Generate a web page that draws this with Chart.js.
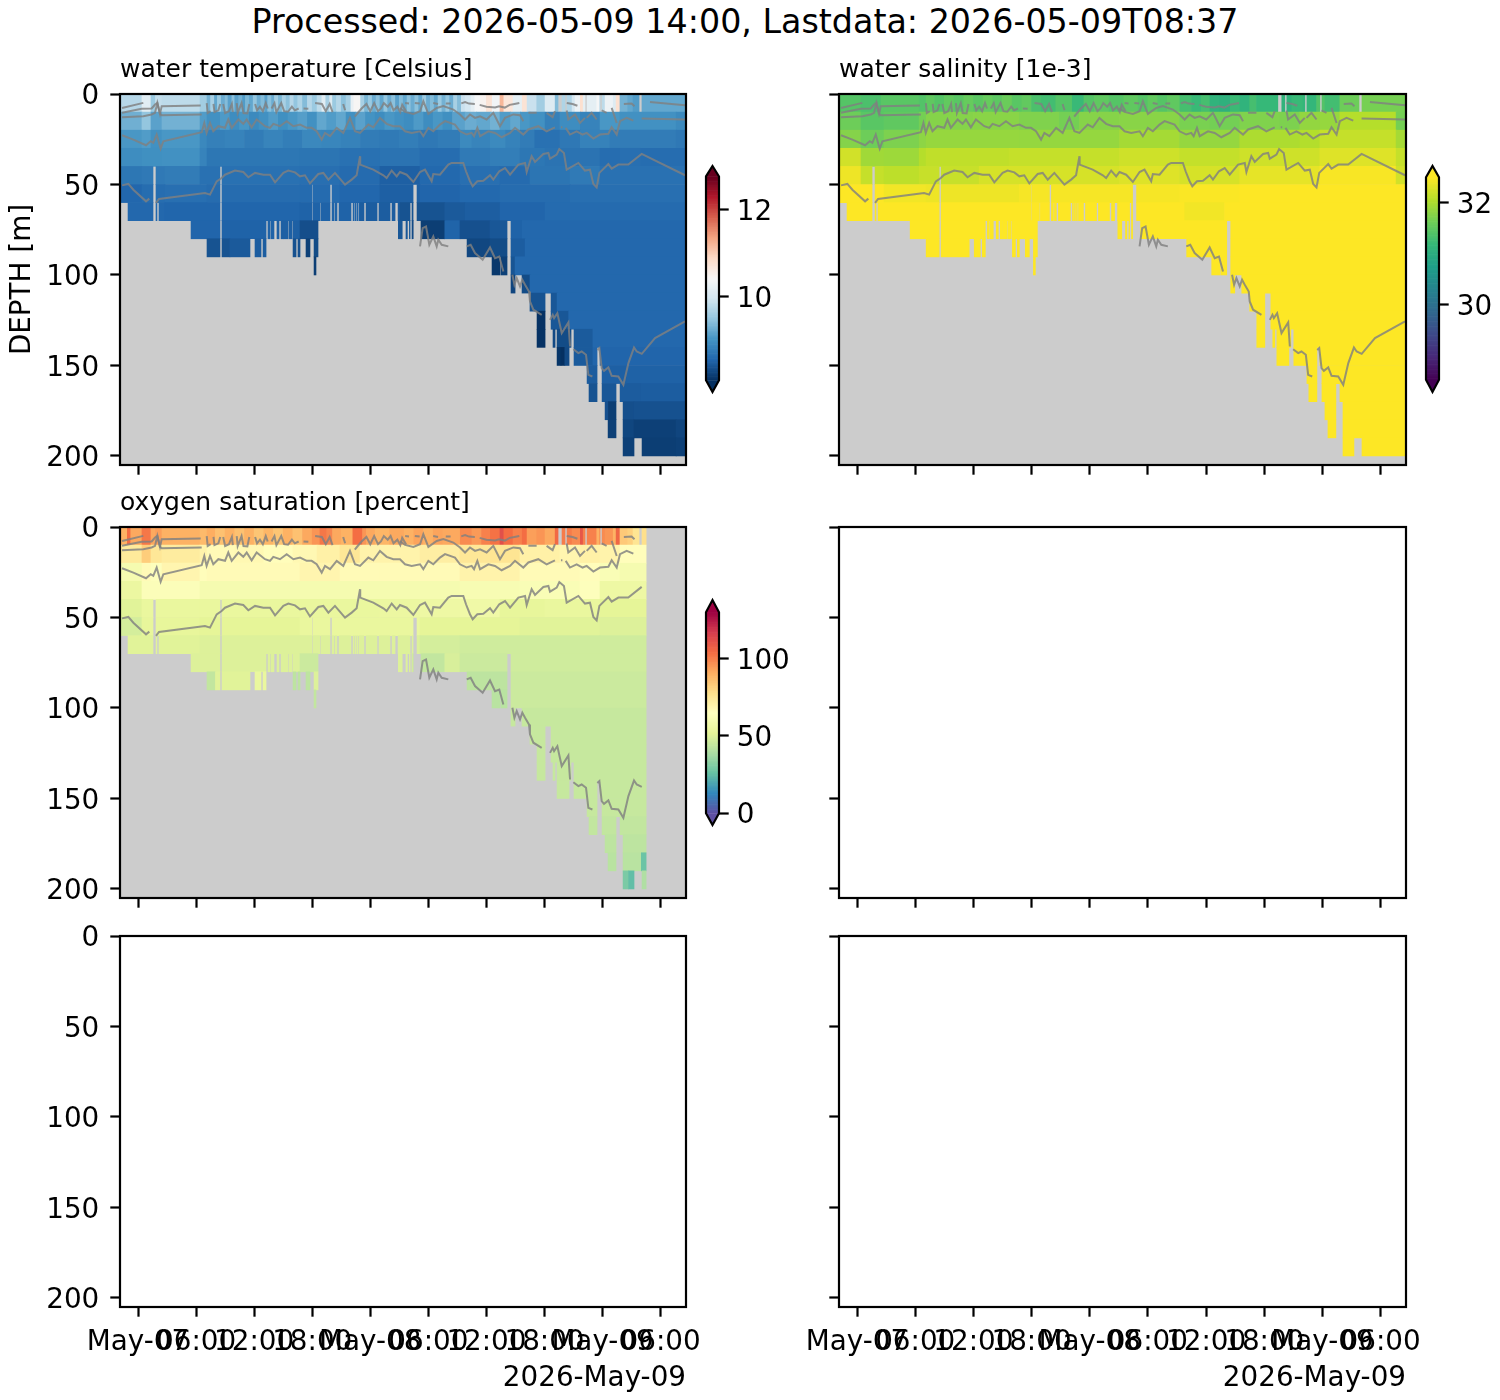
<!DOCTYPE html>
<html>
<head>
<meta charset="utf-8">
<title>Processed chart</title>
<style>
html,body{margin:0;padding:0;background:#fff;}
#wrap{position:relative;width:1500px;height:1400px;overflow:hidden;}
canvas{position:absolute;}
#sup{position:absolute;left:0;top:1px;width:1490px;text-align:center;font:33.3px "DejaVu Sans";color:#000;white-space:nowrap;line-height:42px;}
</style>
<script src="https://cdn.jsdelivr.net/npm/chart.js@4/dist/chart.umd.min.js"></script>
</head>
<body>
<div id="wrap"><div id="sup">Processed: 2026-05-09 14:00, Lastdata: 2026-05-09T08:37</div></div>
<script>
// ---------- axis values (time = hours since 2026-05-07 00:00, depth = metres) ----------
const xStart = -1.86, xEnd = 56.62;
const xTickHours = [0,6,12,18,24,30,36,42,48,54];
const xTickLabels = ['May-07','06:00','12:00','18:00','May-08','06:00','12:00','18:00','May-09','06:00'];
const yTicks = [0,50,100,150,200];
const depthCentres = [5,15,25,35,45,55,65,75,85,95,105,115,125,135,145,155,165,175,185,195];

// ---------- valid data intervals per depth bin ----------
const cover00 = [[-1.86,43.4],[43.81,44.12],[44.33,46.19],[46.4,47.74],[47.95,51.77],[52.08,56.62]];
const cover10 = [[-1.86,56.62]];
const cover20 = [[-1.86,56.62]];
const cover30 = [[-1.86,56.62]];
const cover40 = [[-1.86,1.55],[1.86,8.47],[8.68,56.62]];
const cover50 = [[-1.86,1.55],[1.86,8.47],[8.68,17.98],[18.08,19.84],[20.05,28.42],[28.83,56.62]];
const cover60 = [[-1.03,1.55],[1.86,1.96],[2.17,8.47],[8.68,17.98],[18.08,18.81],[18.91,19.84],[20.05,20.25],[20.36,20.56],[20.77,22.01],[22.22,22.32],[22.42,22.53],[22.63,22.73],[22.84,23.35],[23.56,24.7],[24.9,26.04],[26.25,26.56],[26.87,28.11],[28.31,28.42],[28.83,56.62]];
const cover70 = [[5.48,8.47],[8.68,13.23],[13.43,13.64],[13.74,14.05],[14.36,14.57],[14.78,14.98],[15.0,15.5],[15.6,15.9],[16.0,18.6],[26.9,27.3],[27.69,27.83],[28.04,28.11],[28.31,28.42],[29.24,38.13],[38.54,56.62]];
const cover80 = [[7.13,8.47],[8.68,11.57],[12.09,12.71],[12.92,13.23],[16.02,16.33],[16.53,16.74],[17.36,17.77],[18.19,18.6],[34.0,38.13],[38.54,56.62]];
const cover90 = [[18.19,18.39],[36.58,37.41],[37.51,38.13],[38.54,56.62]];
const cover100 = [[38.54,38.96],[39.68,56.62]];
const cover110 = [[40.5,42.06],[42.68,56.62]];
const cover120 = [[41.23,42.06],[42.68,56.62]];
const cover130 = [[41.23,42.06],[42.88,43.09],[43.3,44.74],[45.05,56.62]];
const cover140 = [[43.3,44.54],[45.05,47.43],[47.74,56.62]];
const cover150 = [[46.4,47.43],[47.95,56.62]];
const cover160 = [[46.6,47.43],[47.95,49.39],[49.81,56.62]];
const cover170 = [[48.26,49.39],[50.12,56.62]];
const cover180 = [[48.57,49.39],[50.12,56.62]];
const cover190 = [[50.12,51.25],[52.08,56.52]];
const coverRows = [cover00,cover10,cover20,cover30,cover40,cover50,cover60,cover70,cover80,cover90,cover100,cover110,cover120,cover130,cover140,cover150,cover160,cover170,cover180,cover190];

// ---------- water temperature per depth bin: [segment end hour, value] ----------
const temp00 = [[0.41,9.75],[1.34,10.15],[1.8,9.55],[2.48,9.85],[6.41,9.8],[7.13,9.6],[7.5,9.3],[7.9,9.65],[8.2,9.2],[8.6,9.55],[9.0,9.25],[9.3,9.4],[9.7,9.15],[10.0,9.45],[10.4,9.15],[10.8,9.3],[11.1,9.1],[11.5,9.35],[11.9,9.2],[12.3,9.5],[12.7,9.25],[13.1,9.4],[13.4,9.15],[13.8,9.45],[14.1,9.25],[14.5,9.6],[14.9,9.35],[15.3,9.65],[15.7,9.45],[16.1,9.75],[16.5,9.5],[17.0,9.7],[17.5,9.4],[18.0,9.75],[18.5,9.55],[19.0,9.8],[19.4,10.15],[19.8,9.65],[20.1,10.1],[20.5,9.55],[21.0,9.75],[21.5,9.45],[22.0,9.65],[22.3,10.25],[23.0,10.45],[23.4,9.65],[23.8,9.35],[24.2,9.55],[24.6,9.25],[25,9.45],[25.4,9.2],[25.8,9.5],[26.2,9.25],[26.6,9.45],[27,9.15],[27.4,9.4],[27.8,9.2],[28.2,9.45],[28.6,9.25],[29,9.45],[29.4,9.2],[29.8,9.55],[30.2,9.25],[30.6,9.4],[31,9.2],[31.4,9.55],[31.8,9.3],[32.2,9.5],[32.6,9.25],[33,9.65],[33.4,9.4],[33.8,9.9],[34.4,10.0],[34.8,10.2],[35.4,10.4],[36,10.5],[36.6,10.75],[37.4,10.35],[37.8,11.2],[38.75,10.7],[39.7,10.2],[40.2,10.75],[41.2,9.9],[42.06,9.6],[43.1,10.1],[43.4,9.4],[44.85,9.7],[45.16,10.0],[45.7,10.3],[46,10.8],[47.4,10.2],[47.7,10.4],[48.26,9.8],[49.1,10.3],[49.4,10.1],[49.8,10.8],[50.6,9.3],[51.15,9.2],[52.1,9.1],[56.62,9.2]];
const temp10 = [[0.41,9.28],[1.34,9.5],[2.48,9.15],[6.41,9.3],[7.13,9.1],[8.5,9.0],[9.5,9.08],[10.5,8.95],[11.5,9.05],[12.5,8.92],[13.5,9.0],[14.5,9.1],[15.5,8.98],[16.5,9.05],[17.5,9.12],[18.5,9.0],[19.5,9.2],[20.5,9.1],[21.5,9.2],[22.5,9.0],[23.5,9.15],[24.5,9.02],[25.5,8.95],[26.5,9.05],[27.5,9.0],[28.5,8.95],[29.5,9.08],[30.5,8.95],[31.5,9.05],[32.5,8.98],[33.8,9.15],[35,9.25],[36.4,9.2],[37.4,9.3],[38.5,9.1],[39.5,9.2],[40.5,9.05],[42.06,9.0],[43.6,8.82],[45.7,8.95],[47.74,8.85],[49.8,9.05],[55.6,9.0],[56.62,8.92]];
const temp20 = [[0.41,9.05],[1.34,9.1],[2.48,9.0],[6.41,9.05],[7.13,8.9],[9,8.82],[11,8.85],[13,8.78],[15,8.86],[17,8.8],[19,8.9],[21,8.88],[23,8.84],[25,8.78],[27,8.76],[29,8.8],[31,8.74],[33.3,8.78],[34.5,8.92],[36.4,8.86],[38,8.92],[39.5,8.84],[41,8.78],[43.6,8.66],[45.7,8.74],[48.77,8.84],[55.6,8.78],[56.62,8.74]];
const temp30 = [[0.41,8.95],[2.48,8.98],[6.41,9.0],[7.13,8.85],[16.74,8.72],[20.87,8.7],[25,8.66],[29.14,8.68],[33.27,8.62],[36.4,8.76],[39.47,8.8],[42.06,8.72],[47.74,8.68],[49.8,8.62],[52,8.64],[56.62,8.62]];
const temp40 = [[0.41,8.72],[2.79,8.75],[6.41,8.78],[16.74,8.66],[20.87,8.64],[25,8.6],[29.14,8.5],[33.27,8.58],[37.4,8.64],[40.5,8.6],[44.64,8.7],[47.74,8.76],[56.62,8.66]];
const temp50 = [[0.41,8.56],[2.79,8.62],[7.13,8.64],[16.74,8.61],[20.87,8.6],[25,8.56],[29.14,8.5],[33.27,8.54],[37.4,8.58],[44.64,8.61],[56.62,8.64]];
const temp60 = [[2.79,8.57],[16.74,8.55],[22.94,8.52],[27.07,8.47],[31.7,8.38],[33.8,8.44],[37.41,8.48],[42.06,8.54],[56.62,8.6]];
const temp70 = [[8.47,8.54],[14.4,8.52],[16.74,8.5],[18.6,8.34],[28.4,8.42],[31.7,8.2],[33.27,8.53],[36.37,8.36],[38.13,8.42],[39.7,8.52],[56.62,8.57]];
const temp80 = [[9.5,8.38],[11.57,8.44],[13.3,8.47],[16.8,8.37],[17.77,8.22],[18.6,8.32],[36.37,8.28],[38.13,8.32],[40,8.47],[56.62,8.57]];
const temp90 = [[18.39,8.2],[37.41,8.15],[38.13,8.22],[38.96,8.4],[56.62,8.57]];
const temp100 = [[38.96,8.26],[40.5,8.32],[56.62,8.57]];
const temp110 = [[42.06,8.38],[43.3,8.42],[56.62,8.57]];
const temp120 = [[42.06,8.1],[44.5,8.42],[56.62,8.57]];
const temp130 = [[42.06,8.1],[43.09,8.3],[44.74,8.32],[47,8.45],[56.62,8.57]];
const temp140 = [[43.7,8.12],[44.1,8.08],[44.54,8.3],[47,8.45],[56.62,8.54]];
const temp150 = [[47.43,8.46],[50.5,8.5],[56.62,8.51]];
const temp160 = [[47.43,8.38],[49.39,8.42],[52,8.46],[56.62,8.47]];
const temp170 = [[48.6,8.36],[49.39,8.2],[51.25,8.35],[56.62,8.37]];
const temp180 = [[49.39,8.22],[51.25,8.27],[55.6,8.22],[56.62,8.26]];
const temp190 = [[51.25,8.22],[55.6,8.2],[56.62,8.22]];
const tempRows = [temp00,temp10,temp20,temp30,temp40,temp50,temp60,temp70,temp80,temp90,temp100,temp110,temp120,temp130,temp140,temp150,temp160,temp170,temp180,temp190];

// ---------- water salinity per depth bin ----------
const sal00 = [[0.41,31.42],[2.48,31.35],[6.41,31.45],[7.13,31.4],[8,31.5],[9,31.42],[10,31.52],[11,31.45],[12,31.55],[13,31.46],[14,31.55],[15,31.48],[16,31.58],[17,31.45],[18,31.52],[19,31.35],[20.5,31.28],[22.2,31.42],[23.4,31.2],[24.5,31.42],[26,31.5],[27.5,31.42],[29,31.5],[30,31.42],[31,31.52],[32,31.42],[33.3,31.5],[34.5,31.3],[35.5,31.2],[36.4,31.3],[37.4,31.1],[38.5,31.05],[39.5,31.22],[40.5,31.1],[41.2,31.3],[43.6,31.18],[44.85,31.1],[46,31.2],[47.4,31.15],[48.26,31.4],[49.8,31.28],[51.8,31.6],[56.62,31.66]];
const sal10 = [[0.41,31.6],[2.79,31.45],[6.41,31.5],[7.13,31.65],[12,31.75],[16.74,31.78],[20.87,31.72],[22.94,31.65],[27.07,31.76],[33.27,31.78],[36.4,31.68],[39.47,31.64],[43.6,31.72],[45.67,31.7],[47.74,31.84],[49.8,31.86],[55.6,32.05],[56.62,31.65]];
const sal20 = [[0.41,31.75],[2.79,31.6],[6.41,31.7],[7.13,31.8],[16.74,31.86],[27.07,31.85],[33.27,31.95],[39.47,31.85],[45.67,32.0],[47.74,32.04],[55.6,32.15],[56.62,31.95]];
const sal30 = [[0.41,32.22],[2.79,31.92],[6.41,31.9],[7.13,32.05],[15.7,32.12],[27.07,32.15],[33.27,32.2],[39.47,32.14],[47.74,32.2],[55.6,32.3],[56.62,32.15]];
const sal40 = [[0.41,32.4],[2.79,32.15],[6.41,32.1],[12.6,32.16],[27.07,32.25],[33.27,32.3],[39.47,32.25],[47.74,32.35],[55.6,32.46],[56.62,32.22]];
const sal50 = [[2.79,32.5],[7.13,32.42],[16.74,32.4],[33.27,32.45],[39.47,32.47],[56.62,32.5]];
const sal60 = [[33.8,32.5],[37.9,32.42],[56.62,32.5]];
const sal70 = [[56.62,32.6]];
const sal80 = [[56.62,32.6]];
const sal90 = [[56.62,32.6]];
const sal100 = [[56.62,32.6]];
const sal110 = [[56.62,32.6]];
const sal120 = [[56.62,32.6]];
const sal130 = [[56.62,32.6]];
const sal140 = [[56.62,32.6]];
const sal150 = [[56.62,32.6]];
const sal160 = [[56.62,32.6]];
const sal170 = [[56.62,32.6]];
const sal180 = [[56.62,32.6]];
const sal190 = [[56.62,32.6]];
const salRows = [sal00,sal10,sal20,sal30,sal40,sal50,sal60,sal70,sal80,sal90,sal100,sal110,sal120,sal130,sal140,sal150,sal160,sal170,sal180,sal190];

// ---------- oxygen saturation per depth bin ----------
const oxy00 = [[-1.1,90],[-0.75,104],[0.41,92],[1.34,102],[1.8,92],[2.48,94],[6.41,90],[7.13,88],[8,91],[9,86],[10,90],[11,86],[12,90],[13,85],[14,89],[15,85],[16,90],[17,86],[18,92],[18.8,96],[19.5,102],[20.1,99],[21,92],[22.2,90],[23.2,104],[23.6,96],[24.5,92],[26,89],[27.5,92],[28.5,90],[29.5,93],[30.5,90],[31.5,93],[33.3,92],[34.5,98],[35.5,95],[36.4,100],[37.4,103],[37.8,112],[38.75,104],[39.7,100],[40.2,104],[41.2,94],[42.06,96],[43.1,92],[43.4,105],[44.85,101],[45.7,98],[46,110],[47.4,100],[47.7,90],[48.26,98],[49.1,96],[49.4,90],[49.8,106],[50.6,84],[51.15,82],[52.1,76],[52.5,78]];
const oxy10 = [[0.41,74],[1.34,83],[2.48,75],[6.41,73],[7.13,70],[10,67],[13,68],[16,66],[18.5,68],[20.87,71],[22.94,75],[27.07,70],[29.14,70],[33.27,72],[36.4,75],[39.47,76],[43.6,71],[45.67,69],[47.74,71],[49.8,70],[52.5,66]];
const oxy20 = [[0.41,60],[1.34,67],[2.48,64],[6.41,69],[7.13,66],[16.74,67],[20.87,69],[25,67],[33.27,67],[39.47,70],[45.67,67],[47.74,66],[49.8,62],[52.5,60]];
const oxy30 = [[0.41,55],[1.34,63],[6.41,63],[16.74,60],[25,60],[33.27,60],[39.47,61],[45.67,62],[47.74,64],[52.5,56]];
const oxy40 = [[0.41,51],[6.41,54],[16.74,54],[25,54],[29.14,55],[33.27,56],[37.4,57],[42.06,53],[47.74,54],[52.5,52]];
const oxy50 = [[0.41,48],[6.41,53],[16.74,52],[29.14,54],[39.47,52],[47.74,51],[52.5,50]];
const oxy60 = [[6.41,51],[16.74,50],[29.14,50],[33.27,48],[47.74,47],[52.5,47]];
const oxy70 = [[16.74,50],[18.6,46],[28.4,50],[31.7,44],[33.27,49],[38.13,46],[52.5,47]];
const oxy80 = [[8,44],[11.57,51],[13.23,54],[17.77,43],[18.6,50],[38.13,43],[52.5,46]];
const oxy90 = [[18.39,44],[38.13,42],[52.5,46]];
const oxy100 = [[52.5,45]];
const oxy110 = [[52.5,45]];
const oxy120 = [[52.5,45]];
const oxy130 = [[52.5,45]];
const oxy140 = [[52.5,45]];
const oxy150 = [[52.5,45]];
const oxy160 = [[52.5,44]];
const oxy170 = [[52.5,43]];
const oxy180 = [[52.0,42],[52.5,27]];
const oxy190 = [[50.7,30],[51.25,25],[52.5,40]];
const oxyRows = [oxy00,oxy10,oxy20,oxy30,oxy40,oxy50,oxy60,oxy70,oxy80,oxy90,oxy100,oxy110,oxy120,oxy130,oxy140,oxy150,oxy160,oxy170,oxy180,oxy190];

// ---------- grey contour lines: [hour, depth], null = break ----------
const contourTop = [[-1.65,7.7],[0.55,4.9],null,[-1.65,10.4],[0.38,8.2],[1.41,8],[1.76,5.8],[2,4.9],[2.27,11],[2.45,6.7],[6.48,6.4],null,[7.1,5],[7.2,10.5],[7.5,9.5],null,[7.8,5.5],[7.9,10],[8.3,9],[8.5,5.5],null,[8.8,5.5],[9.0,10.5],[9.4,9.5],[9.7,5.5],[9.8,10],null,[10.2,5],[10.3,10.5],[10.7,5],[10.9,10.5],[11.3,10.7],[11.5,5.5],null,[12.1,5.5],[12.3,9],[12.6,7],[12.9,9.5],[13.2,5],[13.4,8],null,[13.8,8],[14.1,5],[14.3,10],[14.8,5],[15.1,9.5],[15.5,9.8],[15.9,7],[16.2,9],[16.6,8],null,[17.1,8],[17.6,8.2],null,[18.3,5],[19,5.5],[19.4,9.5],[19.8,5.5],[20.1,10],null,[21.2,5.5],[21.4,9],null,[22.4,12.5],[22.7,10.5],[23.1,8],[23.6,5.5],[24,9.5],[24.4,5],[24.8,9.5],[25.1,8],[25.4,5],[25.8,7],[26.1,5],[26.4,9],[26.8,7],[27.1,10],[27.3,6],[27.7,9.5],null,[27.6,5],[28,5.2],null,[28.6,5],[29.1,5.3],null,[30.5,5],[31,5.5],null,[31.8,5.2],[32.3,5.3],null,[33.4,5.2],[33.8,4.5],[34.2,5.3],[34.8,5.5],null,[35.3,6],[36,7],[36.9,7.5],[37.3,6.8],[37.9,7.5],[38.4,6],[38.9,5.5],[39.4,5],null,[44.3,5],[44.9,5.5],[45.4,6.5],null,[50.2,5.5],[51,5.3],[51.3,6.8],null,[52.9,4.4],[56.52,6.2]];
const contourUpper = [[-1.65,12.8],[0.55,12.3],[1.41,11.3],[1.76,10.4],[2,4.9],[2.27,11],[2.45,11.7],[6.58,11.3],null,[27.07,7.7],[27.59,9.9],[28.45,11],[29.14,9.5],[29.48,4],[30,11],[30.86,7.7],[31.55,6.7],[32.58,8.6],[33.27,11.3],[33.79,14.1],[34.3,11.3],[34.82,13.2],[35.34,12.3],[36.02,14.1],[36.71,10.4],[37.06,14.1],[37.4,17.8],[37.92,13.2],[38.78,11.3],[39.47,11.7],[39.81,15],null,[40.33,10.4],[41.19,10.4],null,[42.22,10.4],[42.84,12.8],[43.08,9.5],null,[44.29,9.1],[44.46,14.1],[45.15,11.3],[45.67,16],[46.18,13.2],null,[46.36,13.2],[46.87,10.4],[47.39,14.1],null,[47.91,9.1],[48.42,10.4],null,[48.94,7.7],[49.46,16],null,[52.04,13.6],[56.52,14.1]];
const contourMid = [[-1.65,22.8],[-0.48,25.2],[0.83,28.3],[1.31,26.1],[1.58,27],[1.93,22.4],[2.34,30.2],[2.62,26.1],[6.58,21.1],[6.85,16],[7.09,21.5],[7.44,16],[7.78,20.6],[8.3,17.8],[8.99,18.7],[9.33,14.1],[9.68,18.7],[10.37,14.1],[10.88,16.5],[11.23,14.1],[11.74,18.4],[12.26,14.1],[13.12,17.8],[13.64,18.7],[13.98,16.5],[14.67,17.8],[15.36,15],[16.05,17.8],[16.74,16.9],[17.43,18.7],[17.94,18.7],[18.46,20.6],[18.98,25.2],[19.32,21.5],[19.84,23.3],[20.53,18.7],[21.21,21.5],[21.9,13.2],[22.42,20.6],[22.94,21.5],[23.8,16.9],[24.31,18.4],[25,13.2],[25.69,16.5],[26.38,17.8],[27.07,17.8],[27.59,20.6],[28.28,21.5],[29.14,20.6],[29.48,23.3],[30,18.7],[30.51,20.6],[31.2,16.9],[31.72,15],[32.75,16.9],[33.27,20.6],[33.96,22.4],[34.47,21.5],[34.72,23.3],[35.06,18.7],[35.34,23.3],[36.2,20.6],[36.89,21.5],[37.57,23.9],[38.44,21.5],[38.95,18.7],[39.81,22.4],[40.33,19.6],[41.36,17.8],[42.22,20.6],[43.08,18.4],null,[43.7,18.4],[43.85,18.4],null,[44.19,18.7],[44.63,22.4],[45.32,20.6],[45.94,22.4],[46.36,21.5],[47.05,24.6],[47.73,22.4],[48.6,22],[48.94,18.4],[49.46,22.4],[49.8,15],[50.49,13.2],[51.18,14.7]];
const contourLow = [[-1.65,50.5],[-1,49.7],[-0.48,52.9],[0.83,59.3],[1.17,57.8],null,[1.86,60.2],[2.17,58],[6.92,54.7],[7.44,55.6],[8.13,48.3],[8.64,46.4],[8.99,44.6],[10.02,42.3],[10.88,43.1],[11.4,46],[12.09,43.6],[12.95,44.6],[13.64,44.6],[14.16,48.8],[15.02,43.6],[15.53,42.3],[16.22,43.3],[16.74,45.5],[17.25,44.9],[17.77,49.4],[18.63,44.2],[19.15,43.6],[19.67,47.3],[20.35,43.6],[21.39,50.1],[22.08,47.3],[22.59,44.9],[22.94,34.4],[22.96,39],[24.31,41.8],[25.35,44.9],[25.69,46.4],[26.21,42.3],[26.73,45.5],[27.07,43.1],[27.76,44.6],[28.45,48.6],[29.14,43.1],[29.65,41.8],[30.34,48.2],[30.51,44.2],[31.2,44.6],[32.06,39],[32.41,38.1],[33.61,38.1],[33.89,42.7],[34.3,48.2],[34.58,51],[35.06,48.2],[35.68,47.9],[36.37,44.9],[36.71,47.3],[37.33,42.7],[37.92,40.9],[38.44,44.6],[39.3,39],[39.99,38.1],[40.16,43.1],[40.67,34.4],[41.02,37.5],[41.88,33.1],[42.4,32.6],[42.57,35.7],[43.26,33.5],[43.53,30.4],[44.01,32.6],[44.29,41.8],[45.5,38.1],[46.18,42.3],[46.7,41.8],[47.05,49.7],[47.39,51.6],[47.67,43.6],[48.6,38.7],[48.94,41.2],[49.63,39],[50.66,39],[52.04,33.1],[56.52,44.9]];
const contourBottom = [[29.14,84.2],[29.41,74.1],[29.76,73.2],[30.1,83.3],[30.51,78.7],[30.86,84.2],[31.03,80.5],[31.38,83.3],[32.06,84.2],null,[33.96,84.2],[34.37,83.3],[34.82,87.9],[35.61,91.6],[36.37,84.8],[36.89,90.7],[37.33,89.8],[37.75,98.1],null,[38.68,99.9],[38.89,105.4],[39.13,101.7],[39.47,106.3],[39.71,102.6],[39.99,105.4],[40.4,109.1],[40.5,114.6],[40.85,119.2],[41.71,122],null,[42.57,124.8],[42.85,122],[42.99,123.8],[43.33,121.1],[43.78,132.1],[44.47,126.2],[44.64,139.5],null,[44.98,141],[45.5,143.2],[45.84,142.3],[46.29,144.1],[46.53,155.2],[46.95,156.1],null,[47.46,141.4],[47.67,140.4],[47.91,151.5],[48.15,153],[48.6,151.1],[48.94,155.7],[49.63,156.1],[50.15,160.7],[50.67,148.7],[51.25,140.1],[51.53,142.3],[52.05,143.6],[53.42,134.9],[56.52,125.7]];
const contourSets = [contourTop,contourUpper,contourMid,contourLow,contourBottom];

// ---------- colour maps ----------
const rdBuR = ['#053061','#2166ac','#4393c3','#92c5de','#d1e5f0','#f7f7f7','#fddbc7','#f4a582','#d6604d','#b2182b','#67001f'];
const viridis = ['#440154','#482878','#3e4989','#31688e','#26828e','#1f9e89','#35b779','#6ece58','#b5de2b','#fde725'];
const spectralR = ['#5e4fa2','#3288bd','#66c2a5','#abdda4','#e6f598','#ffffbf','#fee08b','#fdae61','#f46d43','#d53e4f','#9e0142'];
function rgbOf(h){return [parseInt(h.slice(1,3),16),parseInt(h.slice(3,5),16),parseInt(h.slice(5,7),16)];}
function colorAt(stops,v,vmin,vmax){
  let f=(v-vmin)/(vmax-vmin); f=Math.max(0,Math.min(1,f));
  const p=f*(stops.length-1), i=Math.min(Math.floor(p),stops.length-2), t=p-i;
  const a=rgbOf(stops[i]), b=rgbOf(stops[i+1]);
  return 'rgb('+[0,1,2].map(k=>Math.round(a[k]+(b[k]-a[k])*t)).join(',')+')';
}

// ---------- helpers ----------
Chart.defaults.font.family = '"DejaVu Sans"';
Chart.defaults.color = '#000';
const wrap = document.getElementById('wrap');
const FONT = 27.8, SPINE = 2.2, TICK = 9.7;

function buildCells(rows, tMax){
  const cells=[];
  rows.forEach((row,r)=>{
    let t0=xStart;
    row.forEach(([end,val])=>{
      coverRows[r].forEach(([c0,c1])=>{
        const a=Math.max(t0,c0), b=Math.min(end,c1,tMax);
        if(b>a) cells.push({x:[a,b],y:depthCentres[r],v:val});
      });
      t0=end;
    });
  });
  return cells;
}
function buildLine(points,tMax){
  const out=[]; let last=0;
  points.forEach(p=>{
    if(p===null || p[0]>tMax){ out.push({x:last,y:null}); }
    else { out.push({x:p[0],y:p[1]}); last=p[0]; }
  });
  return out;
}
const framePlugin = {
  id:'frame',
  beforeDatasetsDraw(chart,args,opts){
    if(!opts.gray) return;
    const a=chart.chartArea, c=chart.ctx;
    c.save(); c.fillStyle='#cccccc'; c.fillRect(a.left,a.top,a.right-a.left,a.bottom-a.top); c.restore();
  },
  afterDatasetsDraw(chart){
    const a=chart.chartArea, c=chart.ctx;
    c.save(); c.strokeStyle='#000'; c.lineWidth=SPINE; c.strokeRect(a.left,a.top,a.right-a.left,a.bottom-a.top); c.restore();
  }
};
function addCanvas(left,top,w,h){
  const cv=document.createElement('canvas');
  cv.width=w; cv.height=h;
  cv.style.left=left+'px'; cv.style.top=top+'px'; cv.style.width=w+'px'; cv.style.height=h+'px';
  wrap.appendChild(cv); return cv;
}
// A blank first line plus a 6px line height lowers each vertical-axis label by 3px,
// which centres DejaVu digits on their tick as in the reference.
function loweredLabel(text){ return ['',text]; }
const TITLE_H = 39;
function panel(o){
  const w=o.w, bottomH=o.xLabels?100:30;
  const cv=addCanvas(o.left-120,o.top-TITLE_H,120+w+40,TITLE_H+371+bottomH);
  const datasets=[];
  if(o.rows){
    contourSets.forEach(pts=>datasets.push({type:'line',data:buildLine(pts,o.tMax),borderColor:'rgba(128,128,128,0.82)',borderWidth:2,pointRadius:0,spanGaps:false,tension:0,order:1}));
    datasets.push({type:'bar',indexAxis:'y',data:buildCells(o.rows,o.tMax),barPercentage:1,categoryPercentage:1,borderWidth:0,order:2,
      backgroundColor:c=>c.raw?colorAt(o.cmap,c.raw.v,o.vmin,o.vmax):'#ccc'});
  }
  new Chart(cv,{
    type:'bar',
    data:{datasets},
    plugins:[framePlugin],
    options:{
      responsive:false,devicePixelRatio:1,animation:false,events:[],
      layout:{padding:{top:o.title?0:TITLE_H,right:40,left:0,bottom:0}},
      plugins:{
        legend:{display:false},tooltip:{enabled:false},
        frame:{gray:!!o.rows},
        title:{display:!!o.title,text:o.title||'',align:'start',fullSize:false,color:'#000',
          font:{size:25,weight:'normal',lineHeight:1.2},padding:{top:0,bottom:9}}
      },
      scales:{
        x:{type:'linear',min:xStart,max:xEnd,offset:false,
          afterBuildTicks(s){s.ticks=xTickHours.map(v=>({value:v}));},
          afterFit(s){s.height=bottomH;},
          grid:{offset:false,drawOnChartArea:false,tickLength:TICK,tickWidth:SPINE,tickColor:'#000',color:'#000'},
          border:{display:false},
          ticks:{autoSkip:false,maxRotation:0,minRotation:0,padding:9,color:'#000',font:{size:FONT},
            callback(v,i){return o.xLabels?xTickLabels[i]:'';}},
          title:{display:!!o.xLabels,text:'2026-May-09',align:'end',color:'#000',font:{size:FONT},padding:{top:0,bottom:12}}
        },
        y:{type:'linear',reverse:true,min:0,max:205,offset:false,
          afterBuildTicks(s){s.ticks=yTicks.map(v=>({value:v}));},
          afterFit(s){s.width=120;},
          grid:{offset:false,drawOnChartArea:false,tickLength:TICK,tickWidth:SPINE,tickColor:'#000',color:'#000'},
          border:{display:false},
          ticks:{autoSkip:false,padding:11,color:'#000',font:{size:FONT,lineHeight:'6px'},callback(v){return o.yLabels?loweredLabel(String(v)):'';}},
          title:{display:!!o.yTitle,text:o.yTitle||'',color:'#000',font:{size:FONT},padding:{top:6,bottom:0}}
        }
      }
    }
  });
}
function colorbar(o){
  const PAD=24, h=o.bottom-o.top;
  const cv=addCanvas(o.left-16,o.top-PAD,16+13+90,h+2*PAD);
  const levels=[]; const n=160, step=(o.vmax-o.vmin)/n;
  for(let i=0;i<n;i++) levels.push({x:[0,1],y:o.vmin+(i+0.5)*step,v:o.vmin+(i+0.5)*step});
  const tips={id:'tips',afterDatasetsDraw(chart){
    const a=chart.chartArea,c=chart.ctx,sy=chart.scales.y,mid=(a.left+a.right)/2;
    const yT=sy.getPixelForValue(o.vmax), yB=sy.getPixelForValue(o.vmin);
    c.save();
    c.fillStyle=colorAt(o.cmap,o.vmax,o.vmin,o.vmax);
    c.beginPath();c.moveTo(a.left,yT);c.lineTo(mid,a.top);c.lineTo(a.right,yT);c.closePath();c.fill();
    c.fillStyle=colorAt(o.cmap,o.vmin,o.vmin,o.vmax);
    c.beginPath();c.moveTo(a.left,yB);c.lineTo(mid,a.bottom);c.lineTo(a.right,yB);c.closePath();c.fill();
    c.strokeStyle='#000';c.lineWidth=SPINE;c.lineJoin='miter';
    c.beginPath();c.moveTo(a.left,yT);c.lineTo(mid,a.top);c.lineTo(a.right,yT);c.lineTo(a.right,yB);c.lineTo(mid,a.bottom);c.lineTo(a.left,yB);c.closePath();c.stroke();
    c.restore();
  }};
  new Chart(cv,{
    type:'bar',
    data:{datasets:[{indexAxis:'y',data:levels,barPercentage:1,categoryPercentage:1,borderWidth:0,
      backgroundColor:c=>c.raw?colorAt(o.cmap,c.raw.v,o.vmin,o.vmax):'#fff'}]},
    plugins:[tips],
    options:{
      responsive:false,devicePixelRatio:1,animation:false,events:[],
      layout:{padding:{left:16,top:PAD,bottom:PAD,right:0}},
      plugins:{legend:{display:false},tooltip:{enabled:false},title:{display:false}},
      scales:{
        x:{type:'linear',display:false,min:0,max:1,offset:false,grid:{offset:false}},
        y:{type:'linear',position:'right',min:o.min,max:o.max,offset:false,
          afterBuildTicks(s){s.ticks=o.ticks.map(v=>({value:v}));},
          afterFit(s){s.width=90;},
          grid:{offset:false,drawOnChartArea:false,tickLength:TICK,tickWidth:SPINE,tickColor:'#000',color:'#000'},
          border:{display:false},
          ticks:{autoSkip:false,padding:8,color:'#000',font:{size:FONT,lineHeight:'6px'},callback(v){return loweredLabel(String(v));}}
        }
      }
    }
  });
}

// ---------- panels ----------
panel({left:120,top:94,w:566,title:'water temperature [Celsius]',rows:tempRows,cmap:rdBuR,vmin:8.08,vmax:12.76,tMax:xEnd,yLabels:true,yTitle:'DEPTH [m]'});
panel({left:839,top:94,w:567,title:'water salinity [1e-3]',rows:salRows,cmap:viridis,vmin:28.53,vmax:32.49,tMax:xEnd});
panel({left:120,top:527,w:566,title:'oxygen saturation [percent]',rows:oxyRows,cmap:spectralR,vmin:0,vmax:130,tMax:52.5,yLabels:true});
panel({left:839,top:527,w:567,xLabels:false});
panel({left:120,top:936,w:566,yLabels:true,xLabels:true});
panel({left:839,top:936,w:567,xLabels:true});

colorbar({left:706,top:166,bottom:392,min:7.81,max:13.0,vmin:8.08,vmax:12.76,ticks:[10,12],cmap:rdBuR});
colorbar({left:1425.5,top:166,bottom:392,min:28.29,max:32.71,vmin:28.53,vmax:32.49,ticks:[30,32],cmap:viridis});
colorbar({left:706,top:600,bottom:825,min:-7.6,max:138,vmin:0,vmax:130,ticks:[0,50,100],cmap:spectralR});
</script>
</body>
</html>
